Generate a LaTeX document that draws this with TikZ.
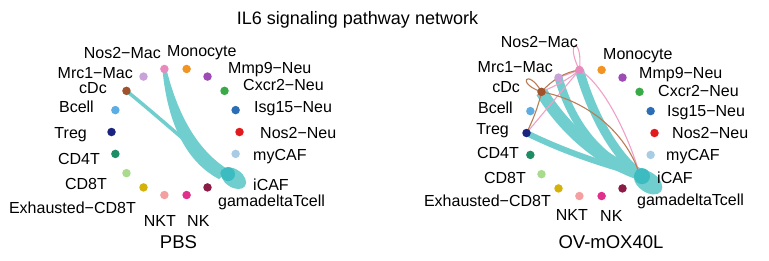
\documentclass[tikz,border=0pt]{standalone}
\usepackage{fontspec}
\setmainfont{Liberation Sans}
\usetikzlibrary{backgrounds}

\definecolor{colNos2Mac}{RGB}{232,138,190}
\definecolor{colMonocyte}{RGB}{242,148,34}
\definecolor{colMmp9Neu}{RGB}{156,76,180}
\definecolor{colCxcr2Neu}{RGB}{58,170,72}
\definecolor{colIsg15Neu}{RGB}{44,110,181}
\definecolor{colNos2Neu}{RGB}{226,26,30}
\definecolor{colmyCAF}{RGB}{168,204,228}
\definecolor{coliCAF}{RGB}{60,188,192}
\definecolor{colgdTcell}{RGB}{139,28,70}
\definecolor{colNK}{RGB}{224,48,140}
\definecolor{colNKT}{RGB}{244,160,160}
\definecolor{colExhCDT}{RGB}{212,178,10}
\definecolor{colCDEightT}{RGB}{168,220,140}
\definecolor{colCDFourT}{RGB}{30,140,100}
\definecolor{colTreg}{RGB}{26,35,126}
\definecolor{colBcell}{RGB}{93,173,226}
\definecolor{colcDc}{RGB}{160,82,45}
\definecolor{colMrc1Mac}{RGB}{200,162,216}
\definecolor{linkteal}{RGB}{112,206,206}
\definecolor{linkpink}{RGB}{240,160,200}
\definecolor{linkbrown}{RGB}{185,125,85}

\begin{document}
\begin{tikzpicture}[x=1pt, y=-1pt,
    dot/.style={circle, inner sep=0pt, minimum size=8.5pt},
    lbl/.style={inner sep=0pt, font=\fontsize{16}{18}\selectfont},
    panel/.style={anchor=base, inner sep=0pt, font=\fontsize{18.5}{20}\selectfont},
    tealflow/.style={draw=linkteal, line cap=butt},
    pinkflow/.style={draw=linkpink, line width=1.1pt},
    brownflow/.style={draw=linkbrown, line width=1.1pt}
  ]
  \useasboundingbox (0,0) rectangle (769,260);

  % Title
  \node[anchor=base, inner sep=0pt, font=\fontsize{18}{20}\selectfont] (title) at (357.5,24.5) {IL6 signaling pathway network};

  % Cell groups on both circles
  \foreach \p/\cx/\cy in {pbs/175.5/132, ox/590.5/133}
    \foreach \n/\a in {Nos2Mac/-100, Monocyte/-80, Mmp9Neu/-60, Cxcr2Neu/-40, Isg15Neu/-20,
                       Nos2Neu/0, myCAF/20, iCAF/40, gdTcell/60, NK/80, NKT/100, ExhCDT/120,
                       CDEightT/140, CDFourT/160, Treg/180, Bcell/-160, cDc/-140, Mrc1Mac/-120}
      \node[dot, fill=col\n] (\p-\n) at ([shift={(\cx,\cy)}]\a:64) {};

  % Labels, PBS
  \foreach \n/\t/\x/\y/\s in {Nos2Mac/Nos2−Mac/161/58/base east, Monocyte/Monocyte/167/56.5/base west,
      Mmp9Neu/Mmp9−Neu/228/73/base west, Cxcr2Neu/Cxcr2−Neu/243/90/base west,
      Isg15Neu/Isg15−Neu/254/112/base west, Nos2Neu/Nos2−Neu/260/138/base west,
      myCAF/myCAF/253/160.5/base west, iCAF/iCAF/253/190/base west,
      gdTcell/gamadeltaTcell/218/206.5/base west, NK/NK/187/226.5/base west,
      NKT/NKT/176/226.5/base east, ExhCDT/Exhausted−CD8T/136/213/base east,
      CDEightT/CD8T/107/189/base east, CDFourT/CD4T/100/164/base east,
      Treg/Treg/87/138/base east, Bcell/Bcell/94/112/base east,
      cDc/cDc/107/93/base east, Mrc1Mac/Mrc1−Mac/133/78/base east}
    \node[lbl, anchor=\s] (pbs-\n-name) at (\x,\y) {\t};

  % Labels, OV-mOX40L
  \foreach \n/\t/\x/\y/\s in {Nos2Mac/Nos2−Mac/578/47/base east, Monocyte/Monocyte/603/59/base west,
      Mmp9Neu/Mmp9−Neu/639/78/base west, Cxcr2Neu/Cxcr2−Neu/658/96.5/base west,
      Isg15Neu/Isg15−Neu/667/116/base west, Nos2Neu/Nos2−Neu/672/138/base west,
      myCAF/myCAF/666/160/base west, iCAF/iCAF/657/183/base west,
      gdTcell/gamadeltaTcell/637/205/base west, NK/NK/600/221/base west,
      NKT/NKT/588/220/base east, ExhCDT/Exhausted−CD8T/551/206/base east,
      CDEightT/CD8T/526/183/base east, CDFourT/CD4T/519/158/base east,
      Treg/Treg/509/134/base east, Bcell/Bcell/513/113/base east,
      cDc/cDc/520/92/base east, Mrc1Mac/Mrc1−Mac/553/72/base east}
    \node[lbl, anchor=\s] (ox-\n-name) at (\x,\y) {\t};

  \node[panel] (pbsname) at (178.5,248.6) {PBS};
  \node[panel] (oxname) at (611,248.6) {OV-mOX40L};

  \begin{pgfonlayer}{background}
    % PBS links
    \fill[linkteal] ([shift={(-2,0)}]pbs-Nos2Mac.center) .. controls (167,118) and (183,160) .. ([shift={(-5.5,6)}]pbs-iCAF.center)
      -- ([shift={(4.5,-3)}]pbs-iCAF.center) .. controls (196,150) and (177,112) .. ([shift={(2,0)}]pbs-Nos2Mac.center) -- cycle;
    \draw[tealflow, line width=3.5pt] (pbs-cDc.center) .. controls (160,118) and (195,150) .. (pbs-iCAF.center);
    \fill[linkteal] ([shift={(9,5)}]pbs-iCAF.center) ellipse [x radius=14, y radius=9, rotate=-35];
    \fill[coliCAF] ([shift={(3.5,1)}]pbs-iCAF.center) circle (7);

    % OV-mOX40L links
    \draw[tealflow, line width=6pt] (ox-Treg.center) .. controls (565,152) and (605,165) .. (ox-iCAF.center);
    \draw[tealflow, line width=12pt] (ox-cDc.center) .. controls (565,130) and (600,160) .. (ox-iCAF.center);
    \draw[tealflow, line width=8pt] (ox-Mrc1Mac.center) .. controls (572,125) and (600,160) .. (ox-iCAF.center);
    \draw[tealflow, line width=9pt] (ox-Nos2Mac.center) .. controls (592,115) and (615,155) .. (ox-iCAF.center);
    \draw[pinkflow] (ox-Nos2Mac.center) .. controls (563.8,39.2) and (583.5,35.8) .. (ox-Nos2Mac.center);
    \draw[pinkflow] (ox-Nos2Mac.center) -- (ox-Mrc1Mac.center);
    \draw[pinkflow] (ox-Nos2Mac.center) .. controls (568,80) and (555,86) .. (ox-cDc.center);
    \draw[pinkflow] (ox-Nos2Mac.center) -- (ox-Treg.center);
    \draw[pinkflow] (ox-Nos2Mac.center) .. controls (605,85) and (630,140) .. (ox-iCAF.center);
    \draw[brownflow] (ox-cDc.center) .. controls (515.2,83) and (528,67.6) .. (ox-cDc.center);
    \draw[brownflow] (ox-cDc.center) .. controls (552,80) and (565,72) .. (ox-Nos2Mac.center);
    \draw[brownflow] (ox-cDc.center) .. controls (538,108) and (532,122) .. (ox-Treg.center);
    \draw[brownflow] (ox-cDc.center) .. controls (585,100) and (625,130) .. (ox-iCAF.center);
    \fill[linkteal] ([shift={(8.5,8)}]ox-iCAF.center) ellipse [x radius=16, y radius=10, rotate=-35];
    \fill[coliCAF] ([shift={(2.5,2)}]ox-iCAF.center) circle (8);
  \end{pgfonlayer}
\end{tikzpicture}
\end{document}
